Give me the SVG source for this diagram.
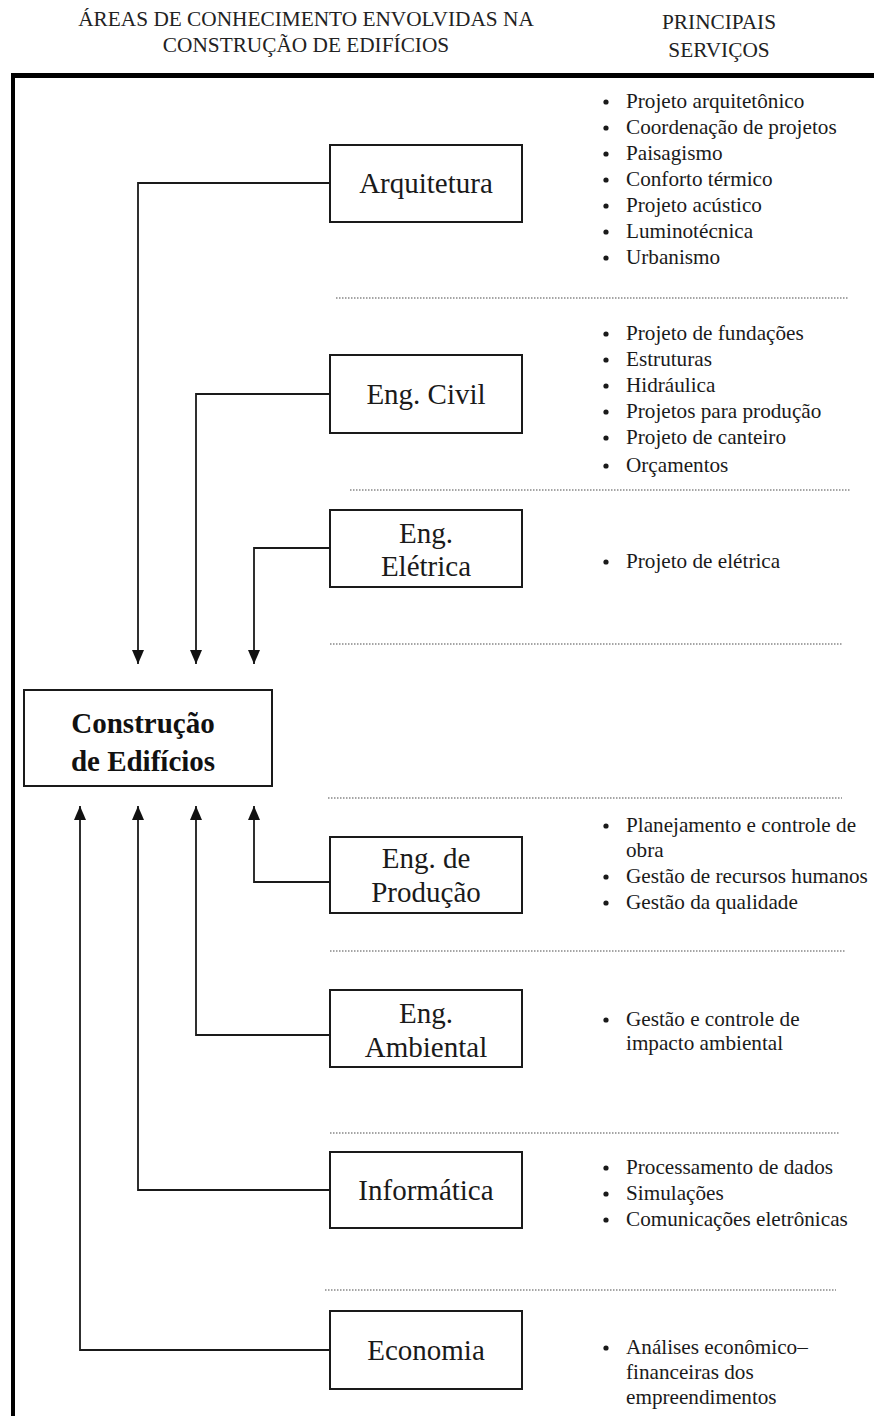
<svg xmlns="http://www.w3.org/2000/svg" width="874" height="1416" viewBox="0 0 874 1416">
<defs>
<style>
.hd{font-family:"Liberation Serif","Times New Roman",serif;font-size:21.3px;fill:#222;text-anchor:middle}
.bx{fill:#fff;stroke:#1a1a1a;stroke-width:2}
.lb{font-family:"Liberation Serif","Times New Roman",serif;font-size:29px;fill:#1a1a1a;text-anchor:middle}
.mb{font-family:"Liberation Serif","Times New Roman",serif;font-size:29px;font-weight:bold;fill:#111;text-anchor:middle}
.li{font-family:"Liberation Serif","Times New Roman",serif;font-size:21.2px;fill:#1a1a1a}
.bu{fill:#1a1a1a}
.dot{stroke:#888;stroke-width:1.5;stroke-dasharray:1.5 1.5;fill:none}
.cn{stroke:#1a1a1a;stroke-width:1.8;fill:none;marker-end:url(#ah)}
</style>
<marker id="ah" viewBox="0 0 14 12" refX="14" refY="6" markerWidth="14" markerHeight="12" markerUnits="userSpaceOnUse" orient="auto">
<path d="M0,0 L14,6 L0,12 z" fill="#111"/>
</marker>
</defs>
<rect width="874" height="1416" fill="#fff"/>

<g id="header">
<text class="hd" x="306" y="26">ÁREAS DE CONHECIMENTO ENVOLVIDAS NA</text>
<text class="hd" x="306" y="52">CONSTRUÇÃO DE EDIFÍCIOS</text>
<text class="hd" x="719" y="29">PRINCIPAIS</text>
<text class="hd" x="719" y="57">SERVIÇOS</text>
</g>

<g id="frame">
<line x1="11" y1="75.5" x2="874" y2="75.5" stroke="#000" stroke-width="5"/>
<line x1="13" y1="73" x2="13" y2="1416" stroke="#000" stroke-width="4"/>
</g>

<g id="separators">
<line class="dot" x1="336" y1="298" x2="848" y2="298"/>
<line class="dot" x1="350" y1="490" x2="850" y2="490"/>
<line class="dot" x1="330" y1="644" x2="842" y2="644"/>
<line class="dot" x1="328" y1="798" x2="842" y2="798"/>
<line class="dot" x1="330" y1="951" x2="846" y2="951"/>
<line class="dot" x1="330" y1="1133" x2="840" y2="1133"/>
<line class="dot" x1="325" y1="1290" x2="836" y2="1290"/>
</g>

<g id="connectors">
<path class="cn" d="M330,183 H138 V664"/>
<path class="cn" d="M330,394 H196 V664"/>
<path class="cn" d="M330,548 H254 V664"/>
<path class="cn" d="M330,882 H254 V806"/>
<path class="cn" d="M330,1035 H196 V806"/>
<path class="cn" d="M330,1190 H138 V806"/>
<path class="cn" d="M330,1350 H80 V806"/>
</g>

<g id="construcao">
<rect class="bx" x="24" y="690" width="248" height="96"/>
<text class="mb" x="143" y="733">Construção</text>
<text class="mb" x="143" y="771">de Edifícios</text>
</g>

<g id="arquitetura">
<rect class="bx" x="330" y="145" width="192" height="77"/>
<text class="lb" x="426" y="193">Arquitetura</text>
</g>
<g id="arquitetura-servicos">
<circle class="bu" cx="606" cy="102" r="2.6"/><text class="li" x="626" y="108">Projeto arquitetônico</text>
<circle class="bu" cx="606" cy="128" r="2.6"/><text class="li" x="626" y="134">Coordenação de projetos</text>
<circle class="bu" cx="606" cy="154" r="2.6"/><text class="li" x="626" y="160">Paisagismo</text>
<circle class="bu" cx="606" cy="180" r="2.6"/><text class="li" x="626" y="186">Conforto térmico</text>
<circle class="bu" cx="606" cy="206" r="2.6"/><text class="li" x="626" y="212">Projeto acústico</text>
<circle class="bu" cx="606" cy="232" r="2.6"/><text class="li" x="626" y="238">Luminotécnica</text>
<circle class="bu" cx="606" cy="258" r="2.6"/><text class="li" x="626" y="264">Urbanismo</text>
</g>

<g id="eng-civil">
<rect class="bx" x="330" y="355" width="192" height="78"/>
<text class="lb" x="426" y="404">Eng. Civil</text>
</g>
<g id="eng-civil-servicos">
<circle class="bu" cx="606" cy="334" r="2.6"/><text class="li" x="626" y="340">Projeto de fundações</text>
<circle class="bu" cx="606" cy="360" r="2.6"/><text class="li" x="626" y="366">Estruturas</text>
<circle class="bu" cx="606" cy="386" r="2.6"/><text class="li" x="626" y="392">Hidráulica</text>
<circle class="bu" cx="606" cy="412" r="2.6"/><text class="li" x="626" y="418">Projetos para produção</text>
<circle class="bu" cx="606" cy="438" r="2.6"/><text class="li" x="626" y="444">Projeto de canteiro</text>
<circle class="bu" cx="606" cy="466" r="2.6"/><text class="li" x="626" y="472">Orçamentos</text>
</g>

<g id="eng-eletrica">
<rect class="bx" x="330" y="510" width="192" height="77"/>
<text class="lb" x="426" y="543">Eng.</text>
<text class="lb" x="426" y="576">Elétrica</text>
</g>
<g id="eng-eletrica-servicos">
<circle class="bu" cx="606" cy="562" r="2.6"/><text class="li" x="626" y="568">Projeto de elétrica</text>
</g>

<g id="eng-producao">
<rect class="bx" x="330" y="837" width="192" height="76"/>
<text class="lb" x="426" y="868">Eng. de</text>
<text class="lb" x="426" y="902">Produção</text>
</g>
<g id="eng-producao-servicos">
<circle class="bu" cx="606" cy="826" r="2.6"/><text class="li" x="626" y="832">Planejamento e controle de</text>
<text class="li" x="626" y="857">obra</text>
<circle class="bu" cx="606" cy="877" r="2.6"/><text class="li" x="626" y="883">Gestão de recursos humanos</text>
<circle class="bu" cx="606" cy="903" r="2.6"/><text class="li" x="626" y="909">Gestão da qualidade</text>
</g>

<g id="eng-ambiental">
<rect class="bx" x="330" y="990" width="192" height="77"/>
<text class="lb" x="426" y="1023">Eng.</text>
<text class="lb" x="426" y="1057">Ambiental</text>
</g>
<g id="eng-ambiental-servicos">
<circle class="bu" cx="606" cy="1020" r="2.6"/><text class="li" x="626" y="1026">Gestão e controle de</text>
<text class="li" x="626" y="1050">impacto ambiental</text>
</g>

<g id="informatica">
<rect class="bx" x="330" y="1152" width="192" height="76"/>
<text class="lb" x="426" y="1200">Informática</text>
</g>
<g id="informatica-servicos">
<circle class="bu" cx="606" cy="1168" r="2.6"/><text class="li" x="626" y="1174">Processamento de dados</text>
<circle class="bu" cx="606" cy="1194" r="2.6"/><text class="li" x="626" y="1200">Simulações</text>
<circle class="bu" cx="606" cy="1220" r="2.6"/><text class="li" x="626" y="1226">Comunicações eletrônicas</text>
</g>

<g id="economia">
<rect class="bx" x="330" y="1311" width="192" height="78"/>
<text class="lb" x="426" y="1360">Economia</text>
</g>
<g id="economia-servicos">
<circle class="bu" cx="606" cy="1348" r="2.6"/><text class="li" x="626" y="1354">Análises econômico–</text>
<text class="li" x="626" y="1379">financeiras dos</text>
<text class="li" x="626" y="1404">empreendimentos</text>
</g>
</svg>
